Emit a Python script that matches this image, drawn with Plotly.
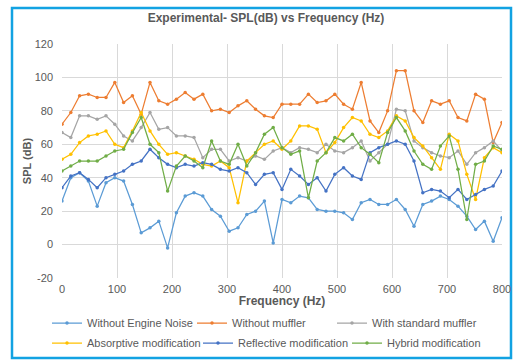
import plotly.graph_objects as go

freq = [0, 16, 32, 48, 64, 80, 96, 112, 128, 144, 160, 176, 192, 208, 224, 240, 256,
        272, 288, 304, 320, 336, 352, 368, 384, 400, 416, 432, 448, 464, 480, 496,
        512, 528, 544, 560, 576, 592, 608, 624, 640, 656, 672, 688, 704, 720, 736,
        752, 768, 784, 800]

without_engine_noise = [26, 40, 43, 38, 23, 37, 40, 38, 24, 7, 10, 14, -2, 19, 29, 31, 29,
                        21, 17, 8, 10, 18, 20, 26, 1, 27, 25, 29, 28, 21, 20, 20, 19, 15,
                        25, 27, 24, 24, 27, 21, 11, 24, 26, 29, 27, 23, 17, 9, 14, 2, 16]
without_muffler = [72, 79, 89, 90, 88, 88, 97, 85, 89, 78, 97, 86, 84, 87, 91, 87, 90, 80,
                   81, 79, 83, 86, 81, 77, 76, 84, 84, 84, 90, 85, 86, 90, 84, 81, 97, 74,
                   67, 80, 104, 104, 80, 73, 86, 84, 86, 76, 74, 90, 87, 61, 73]
with_standard_muffler = [67, 64, 77, 77, 75, 77, 72, 65, 62, 70, 79, 69, 70, 65, 65, 64, 52,
                         57, 57, 50, 52, 50, 53, 51, 56, 58, 55, 58, 57, 55, 60, 56, 55, 58,
                         62, 50, 55, 60, 81, 80, 62, 58, 55, 53, 52, 56, 48, 55, 58, 62, 56]
absorptive_modification = [51, 54, 61, 65, 66, 68, 60, 58, 68, 79, 68, 60, 54, 55, 53, 51,
                           48, 47, 50, 46, 25, 50, 55, 60, 62, 57, 62, 71, 71, 69, 55, 61,
                           70, 76, 74, 66, 64, 68, 77, 74, 64, 59, 52, 45, 66, 62, 42, 27,
                           52, 58, 55]
reflective_modification = [34, 41, 43, 39, 34, 40, 42, 44, 48, 50, 57, 52, 48, 46, 48, 47,
                           49, 48, 45, 44, 46, 43, 36, 42, 43, 33, 45, 41, 36, 40, 32, 42,
                           46, 41, 39, 55, 58, 60, 62, 60, 50, 31, 33, 32, 28, 33, 27, 30,
                           33, 35, 44]
hybrid_modification = [44, 47, 50, 50, 50, 53, 56, 57, 67, 76, 60, 55, 32, 47, 53, 50, 46,
                       62, 50, 48, 60, 47, 55, 66, 70, 58, 54, 56, 28, 50, 55, 64, 62, 66,
                       58, 54, 49, 67, 76, 68, 56, 48, 45, 59, 65, 45, 15, 48, 50, 59, 57]

series_names = ["Without Engine Noise", "Without muffler", "With standard muffler",
                "Absorptive modification", "Reflective modification", "Hybrid modification"]
series_values = [without_engine_noise, without_muffler, with_standard_muffler,
                 absorptive_modification, reflective_modification, hybrid_modification]
colors = ["#5B9BD5", "#ED7D31", "#A5A5A5", "#FFC000", "#4472C4", "#70AD47"]

x_ticks = [0, 100, 200, 300, 400, 500, 600, 700, 800]
y_ticks = [-20, 0, 20, 40, 60, 80, 100, 120]

W, H = 514, 362
L, R, T, B = 62, 12, 44, 84  # plot area: x 62..502, y 44..278

# legend text positions in pixels (text start x, center y)
legend_pos = [(87, 323), (232, 323), (372, 323), (87, 343), (238, 343), (387, 343)]

fig = go.Figure()
for i, (name, vals, col) in enumerate(zip(series_names, series_values, colors)):
    lg = "legend" if i == 0 else f"legend{i+1}"
    fig.add_trace(go.Scatter(
        x=freq, y=vals, name=name, mode="lines+markers",
        line=dict(color=col, width=1.25),
        marker=dict(color=col, size=3.5),
        legend=lg,
    ))

font_family = "Liberation Sans, Arial, sans-serif"
legends = {}
for i, (tx, ty) in enumerate(legend_pos):
    key = "legend" if i == 0 else f"legend{i+1}"
    legends[key] = dict(
        xref="container", yref="container",
        x=(tx - 40) / W, xanchor="left",
        y=1 - ty / H, yanchor="middle",
        orientation="h",
        bgcolor="rgba(0,0,0,0)",
        font=dict(family=font_family, size=11, color="#595959"),
        itemwidth=30,
    )

def px_to_paper_x(px):
    return (px - L) / (W - L - R)

def py_to_paper_y(py):
    return (H - B - py) / (H - T - B)

fig.update_layout(
    width=W, height=H,
    margin=dict(l=L, r=R, t=T, b=B, autoexpand=False),
    paper_bgcolor="white", plot_bgcolor="white",
    showlegend=True,
    title=dict(text="Experimental- SPL(dB) vs Frequency (Hz)",
               x=266 / W, xanchor="center", y=1 - 18 / H, yanchor="middle",
               xref="container", yref="container",
               font=dict(family=font_family, size=12, color="#595959", weight="bold")),
    xaxis=dict(range=[0, 800], tickvals=x_ticks, ticktext=[str(v) for v in x_ticks],
               showgrid=True, gridcolor="#D9D9D9", gridwidth=1, zeroline=False,
               showline=False, ticks="", ticklabelstandoff=3, automargin=False,
               tickfont=dict(family=font_family, size=11, color="#595959"),
               title=dict(text="Frequency (Hz)", standoff=4,
                          font=dict(family=font_family, size=12, color="#595959", weight="bold"))),
    yaxis=dict(range=[-20, 120], tickvals=y_ticks, ticktext=[str(v) for v in y_ticks],
               showgrid=True, gridcolor="#D9D9D9", gridwidth=1, zeroline=False,
               showline=False, ticks="", ticklabelstandoff=8, automargin=False,
               tickfont=dict(family=font_family, size=11, color="#595959"),
               title=dict(text="SPL (dB)", standoff=0,
                          font=dict(family=font_family, size=11, color="#595959", weight="bold"))),
    shapes=[dict(type="rect", xref="paper", yref="paper",
                 x0=px_to_paper_x(12), x1=px_to_paper_x(511),
                 y0=py_to_paper_y(358), y1=py_to_paper_y(8),
                 line=dict(color="#12A2E2", width=2.5), fillcolor="rgba(0,0,0,0)",
                 layer="below")],
    **legends,
)

fig.write_html("out.html", config={"displayModeBar": False},
               post_script="document.body.style.margin='0';document.body.style.overflow='hidden';")
